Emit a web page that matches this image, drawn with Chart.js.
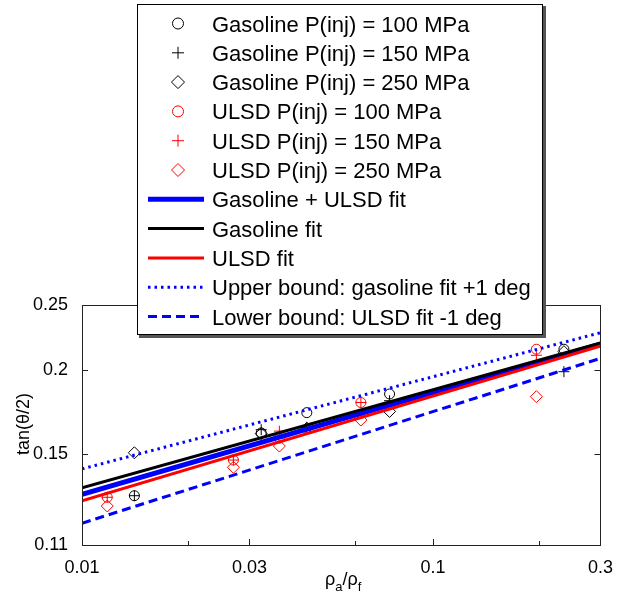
<!DOCTYPE html>
<html lang="en">
<head>
<meta charset="UTF-8">
<title>tan(theta/2) vs density ratio</title>
<script src="https://cdn.jsdelivr.net/npm/chart.js@4.4.1/dist/chart.umd.min.js"></script>
<style>
  html, body { margin: 0; padding: 0; background: #fff; }
</style>
</head>
<body>
<canvas id="myChart" width="617" height="607"></canvas>
<script>

// tick labels
var xTicks = [0.01, 0.03, 0.1, 0.3];
var yTicks = [0.11, 0.15, 0.2, 0.25];
var xMinorTicks = [0.02, 0.06, 0.2];

// gasoline measurements (x = rho_a / rho_f)
var gasX   = [0.0141, 0.0324, 0.0437, 0.0752, 0.236];
var gas100 = [0.1302, 0.1614, 0.1730, 0.1844, 0.2149];
var gas150 = [0.1302, 0.1632, 0.1645, 0.1802, 0.1990];
var gas250 = [0.1508, 0.1610, 0.1640, 0.1737, 0.2131];

// ULSD measurements
var ulsdX   = [0.0118, 0.0270, 0.0365, 0.0623, 0.197];
var ulsd100 = [0.1295, 0.1471, 0.1585, 0.1791, 0.2149];
var ulsd150 = [0.1295, 0.1471, 0.1624, 0.1791, 0.2105];
var ulsd250 = [0.1257, 0.1435, 0.1543, 0.1687, 0.1827];

// fit lines, values at both ends of the axis
var fitX       = [0.01, 0.3];
var fitBoth    = [0.1308, 0.2187];
var fitGas     = [0.1338, 0.2195];
var fitUlsd    = [0.1280, 0.2173];
var upperBound = [0.1427, 0.2274];
var lowerBound = [0.1185, 0.2083];


var font = '"Liberation Sans", Arial, sans-serif';

function pts(xs, ys) {
  return xs.map(function (x, i) { return { x: x, y: ys[i] }; });
}

function markerSet(label, xs, ys, color, style, radius) {
  return {
    label: label, data: pts(xs, ys), showLine: false,
    pointStyle: style, pointRadius: radius, pointHoverRadius: radius,
    pointBorderColor: color, pointBackgroundColor: 'rgba(0,0,0,0)', pointBorderWidth: 1,
    borderColor: color, backgroundColor: 'rgba(0,0,0,0)', order: 10
  };
}

function lineSet(label, ys, color, width, dash, order) {
  return {
    label: label, data: pts(fitX, ys), showLine: true,
    borderColor: color, backgroundColor: color, borderWidth: width, borderDash: dash,
    pointRadius: 0, fill: false, tension: 0, order: order
  };
}

var datasets = [
  markerSet('Gasoline P(inj) = 100 MPa', gasX, gas100, '#000', 'circle', 5),
  markerSet('Gasoline P(inj) = 150 MPa', gasX, gas150, '#000', 'cross', 5.5),
  markerSet('Gasoline P(inj) = 250 MPa', gasX, gas250, '#000', 'rectRot', 6),
  markerSet('ULSD P(inj) = 100 MPa', ulsdX, ulsd100, '#ff0000', 'circle', 5),
  markerSet('ULSD P(inj) = 150 MPa', ulsdX, ulsd150, '#ff0000', 'cross', 5.5),
  markerSet('ULSD P(inj) = 250 MPa', ulsdX, ulsd250, '#ff0000', 'rectRot', 6),
  lineSet('Gasoline + ULSD fit', fitBoth, '#0000ff', 5, [], 6),
  lineSet('Gasoline fit', fitGas, '#000', 3, [], 5),
  lineSet('ULSD fit', fitUlsd, '#ff0000', 3, [], 4),
  lineSet('Upper bound: gasoline fit +1 deg', upperBound, '#0000ff', 3, [2.5, 4], 3),
  lineSet('Lower bound: ULSD fit -1 deg', lowerBound, '#0000ff', 3, [9, 5], 2)
];


// box, inward ticks and axis titles
var frame = {
  id: 'frame',
  afterDatasetsDraw: function (chart) {
    var ctx = chart.ctx, a = chart.chartArea;
    var sx = chart.scales.x, sy = chart.scales.y;
    ctx.save();
    ctx.strokeStyle = '#222';
    ctx.lineWidth = 1;
    ctx.strokeRect(Math.round(a.left) + 0.5, Math.round(a.top) + 0.5,
                   Math.round(a.right - a.left), Math.round(a.bottom - a.top));
    ctx.beginPath();
    xTicks.concat(xMinorTicks).forEach(function (v) {
      var px = Math.round(sx.getPixelForValue(v)) + 0.5;
      var len = xTicks.indexOf(v) >= 0 ? 6 : 4;
      ctx.moveTo(px, a.bottom); ctx.lineTo(px, a.bottom - len);
      ctx.moveTo(px, a.top); ctx.lineTo(px, a.top + len);
    });
    yTicks.forEach(function (v) {
      var py = Math.round(sy.getPixelForValue(v)) + 0.5;
      ctx.moveTo(a.left, py); ctx.lineTo(a.left + 6, py);
      ctx.moveTo(a.right, py); ctx.lineTo(a.right - 6, py);
    });
    ctx.stroke();

    // y title
    ctx.fillStyle = '#000';
    ctx.font = '18px ' + font;
    ctx.textAlign = 'center';
    ctx.textBaseline = 'middle';
    ctx.translate(24, 424);
    ctx.rotate(-Math.PI / 2);
    ctx.fillText('tan(\u03b8/2)', 0, 0);
    ctx.restore();

    // x title with subscripts
    ctx.save();
    ctx.fillStyle = '#000';
    ctx.textBaseline = 'alphabetic';
    ctx.textAlign = 'left';
    var parts = [['\u03c1', 18, 0], ['a', 13, 6], ['/', 18, 0], ['\u03c1', 18, 0], ['f', 13, 6]];
    var w = 0;
    parts.forEach(function (p) { ctx.font = p[1] + 'px ' + font; w += ctx.measureText(p[0]).width; });
    var x = (a.left + a.right) / 2 - w / 2 + 2;
    parts.forEach(function (p) {
      ctx.font = p[1] + 'px ' + font;
      ctx.fillText(p[0], x, 585 + p[2]);
      x += ctx.measureText(p[0]).width;
    });
    ctx.restore();
  }
};

// legend box that sits over the top of the axes
var boxLegend = {
  id: 'boxLegend',
  afterDraw: function (chart) {
    var ctx = chart.ctx;
    var L = 137, T = 4, R = 543, B = 335;
    ctx.save();
    ctx.fillStyle = '#555';
    ctx.fillRect(L + 2, T + 2, R - L + 1, B - T + 1);
    ctx.fillStyle = '#fff';
    ctx.fillRect(L, T, R - L, B - T);
    ctx.strokeStyle = '#000';
    ctx.lineWidth = 1;
    ctx.strokeRect(L + 0.5, T + 0.5, R - L - 1, B - T - 1);

    chart.data.datasets.forEach(function (ds, i) {
      var cy = 23.5 + i * 29.3;
      ctx.save();
      if (ds.showLine) {
        ctx.strokeStyle = ds.borderColor;
        ctx.lineWidth = ds.borderWidth;
        ctx.setLineDash(ds.borderDash || []);
        ctx.beginPath();
        ctx.moveTo(148, cy); ctx.lineTo(204, cy);
        ctx.stroke();
      } else {
        ctx.strokeStyle = ds.pointBorderColor;
        ctx.fillStyle = 'rgba(0,0,0,0)';
        ctx.lineWidth = 1;
        Chart.helpers.drawPoint(ctx, {
          pointStyle: ds.pointStyle, radius: ds.pointRadius + 0.5, borderWidth: 1, rotation: 0
        }, 178, cy);
      }
      ctx.restore();
      ctx.fillStyle = '#000';
      ctx.font = '22px ' + font;
      ctx.textAlign = 'left';
      ctx.textBaseline = 'alphabetic';
      ctx.fillText(ds.label, 212, cy + 8);
    });
    ctx.restore();
  }
};


var ctx = document.getElementById('myChart');
var myChart = new Chart(ctx, {
  type: 'scatter',
  data: { datasets: datasets },
  options: {
    responsive: false,
    animation: false,
    layout: { padding: { left: 0, top: 305, right: 15, bottom: 0 } },
    plugins: { legend: { display: false }, tooltip: { enabled: false } },
    scales: {
      x: {
        type: 'logarithmic', min: 0.01, max: 0.3,
        grid: { display: false }, border: { display: false },
        afterBuildTicks: function (s) { s.ticks = xTicks.map(function (v) { return { value: v }; }); },
        afterFit: function (s) { s.height = 62; },
        ticks: {
          color: '#000', padding: 4, maxRotation: 0, autoSkip: false,
          font: { family: font, size: 18 },
          callback: function (v) { return String(v); }
        }
      },
      y: {
        type: 'logarithmic', min: 0.11, max: 0.25,
        grid: { display: false }, border: { display: false },
        afterBuildTicks: function (s) { s.ticks = yTicks.map(function (v) { return { value: v }; }); },
        afterFit: function (s) { s.width = 82; },
        ticks: {
          color: '#000', padding: 6, autoSkip: false,
          font: { family: font, size: 18 },
          callback: function (v) { return String(v); }
        }
      }
    }
  },
  plugins: [frame, boxLegend]
});

</SCRIPT>
</body>
</html>
